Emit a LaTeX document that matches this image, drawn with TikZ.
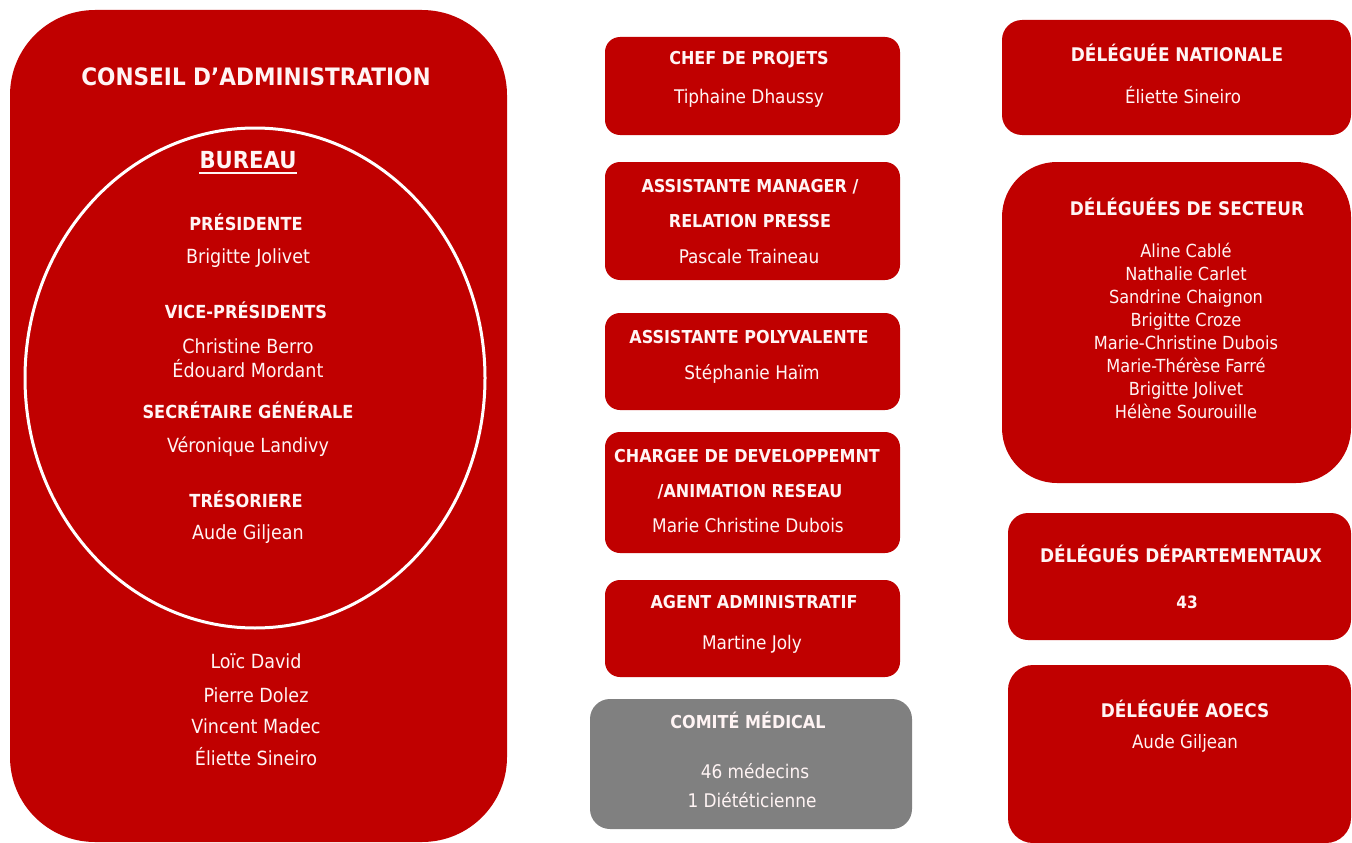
\documentclass[tikz,border=0pt]{standalone}
\usepackage{fontspec}
\setmainfont{DejaVu Sans Condensed}
\usetikzlibrary{shapes.geometric}
\definecolor{cred}{RGB}{192,0,0}
\definecolor{cgray}{RGB}{128,128,128}
\definecolor{ctext}{RGB}{255,244,244}
\begin{document}
\begin{tikzpicture}[x=1pt,y=-1pt,
  box/.style={fill=cred, draw=none, inner sep=0pt, outer sep=0pt, rectangle},
  gbox/.style={box, fill=cgray},
  txt/.style={text=ctext, inner sep=0pt, anchor=base},
  hL/.style={txt, font=\bfseries\fontsize{18}{20}\selectfont},
  nL/.style={txt, font=\fontsize{19.5}{22}\selectfont},
  hM/.style={txt, font=\bfseries\fontsize{17.8}{20}\selectfont},
  nM/.style={txt, font=\fontsize{18.8}{22}\selectfont},
  hR/.style={txt, font=\bfseries\fontsize{18.8}{22}\selectfont},
  nR/.style={txt, font=\fontsize{18.5}{22}\selectfont},
]
\useasboundingbox (0,0) rectangle (1352,843);
\fill[white] (0,0) rectangle (1352,843);

% ---------- left: conseil ----------
\node[box, rounded corners=85pt, minimum width=497pt, minimum height=832pt] (conseil) at (258.5,426) {};
\node[ellipse, draw=white, line width=3pt, inner sep=0pt, minimum width=460pt, minimum height=500pt] (bureau) at (255,378) {};
\node[txt, font=\bfseries\fontsize{24}{28}\selectfont] (tconseil) at (256,85) {CONSEIL D’ADMINISTRATION};
\node[txt, font=\bfseries\fontsize{23.5}{26}\selectfont] (tbureau) at (248,168) {BUREAU};
\draw[ctext, line width=1.8pt] ([yshift=-5pt]tbureau.base west) -- ([yshift=-5pt]tbureau.base east);
\node[hL] (tpres) at (246,230) {PRÉSIDENTE};
\node[nL] (npres) at (248,263) {Brigitte Jolivet};
\node[hL] (tvice) at (246,318) {VICE-PRÉSIDENTS};
\node[nL] (nvice1) at (248,353) {Christine Berro};
\node[nL] (nvice2) at (248,377) {Édouard Mordant};
\node[hL] (tsecr) at (248,418) {SECRÉTAIRE GÉNÉRALE};
\node[nL] (nsecr) at (248,452) {Véronique Landivy};
\node[hL] (ttres) at (246,507) {TRÉSORIERE};
\node[nL] (ntres) at (248,539) {Aude Giljean};
\node[nL] (m1) at (256,668) {Loïc David};
\node[nL] (m2) at (256,702) {Pierre Dolez};
\node[nL] (m3) at (256,733) {Vincent Madec};
\node[nL] (m4) at (256,765) {Éliette Sineiro};

% ---------- middle ----------
\node[box, rounded corners=15pt, minimum width=295pt, minimum height=98pt] (chef) at (752.5,86) {};
\node[hM] (tchef) at (749,65) {CHEF DE PROJETS};
\node[nM] (nchef) at (749,103) {Tiphaine Dhaussy};

\node[box, rounded corners=15pt, minimum width=295pt, minimum height=118pt] (asman) at (752.5,221) {};
\node[hM] (tasman1) at (750,192) {ASSISTANTE MANAGER /};
\node[hM] (tasman2) at (750,227) {RELATION PRESSE};
\node[nM] (nasman) at (749,263) {Pascale Traineau};

\node[box, rounded corners=15pt, minimum width=295pt, minimum height=97pt] (aspol) at (752.5,361.5) {};
\node[hM] (taspol) at (749,343) {ASSISTANTE POLYVALENTE};
\node[nM] (naspol) at (752,379) {Stéphanie Haïm};

\node[box, rounded corners=15pt, minimum width=295pt, minimum height=121pt] (charg) at (752.5,492.5) {};
\node[hM] (tcharg1) at (747,462) {CHARGEE DE DEVELOPPEMNT};
\node[hM] (tcharg2) at (750,497) {/ANIMATION RESEAU};
\node[nM] (ncharg) at (748,532) {Marie Christine Dubois};

\node[box, rounded corners=15pt, minimum width=295pt, minimum height=97pt] (agent) at (752.5,628.5) {};
\node[hM] (tagent) at (754,608) {AGENT ADMINISTRATIF};
\node[nM] (nagent) at (752,649) {Martine Joly};

\node[gbox, rounded corners=20pt, minimum width=322pt, minimum height=130pt] (comite) at (751,764) {};
\node[hM] (tcomite) at (748,728) {COMITÉ MÉDICAL};
\node[nM] (ncomite1) at (755,778) {46 médecins};
\node[nM] (ncomite2) at (752,807) {1 Diététicienne};

% ---------- right ----------
\node[box, rounded corners=20pt, minimum width=349pt, minimum height=115pt] (nat) at (1176.5,77.5) {};
\node[hR] (tnat) at (1177,62) {DÉLÉGUÉE NATIONALE};
\node[nR] (nnat) at (1183,103) {Éliette Sineiro};

\node[box, rounded corners=55pt, minimum width=349pt, minimum height=321pt] (sect) at (1176.5,322.5) {};
\node[hR] (tsect) at (1187,215) {DÉLÉGUÉES DE SECTEUR};
\node[txt, font=\fontsize{18}{23}\selectfont, align=center, anchor=base] (nsect) at (1186,418) {Aline Cablé\\Nathalie Carlet\\Sandrine Chaignon\\Brigitte Croze\\Marie-Christine Dubois\\Marie-Thérèse Farré\\Brigitte Jolivet\\Hélène Sourouille};

\node[box, rounded corners=20pt, minimum width=343pt, minimum height=127pt] (dep) at (1179.5,576.5) {};
\node[hR] (tdep) at (1181,562) {DÉLÉGUÉS DÉPARTEMENTAUX};
\node[hR, font=\bfseries\fontsize{17}{20}\selectfont] (ndep) at (1187,608) {43};

\node[box, rounded corners=25pt, minimum width=343pt, minimum height=178pt] (aoecs) at (1179.5,754) {};
\node[hR] (taoecs) at (1185,717) {DÉLÉGUÉE AOECS};
\node[nR] (naoecs) at (1185,748) {Aude Giljean};
\end{tikzpicture}
\end{document}
